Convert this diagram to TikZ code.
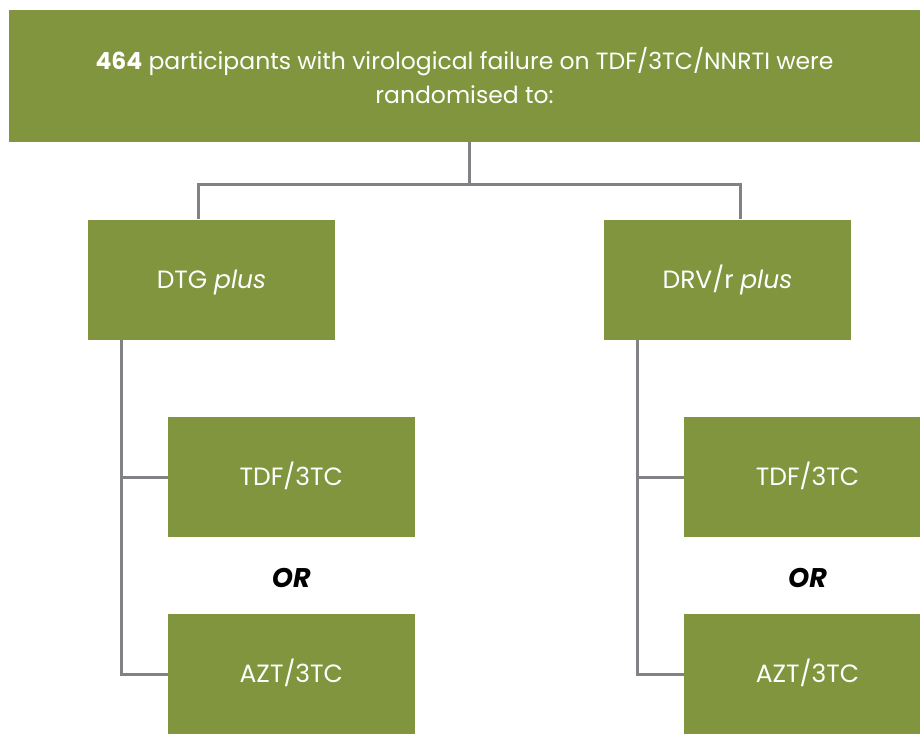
\documentclass[tikz,border=0pt]{standalone}
\usepackage{fontspec}
\setmainfont{Poppins}
\usepackage{tikz}
\usetikzlibrary{positioning}
\definecolor{trialgreen}{RGB}{128,149,61}
\definecolor{linkgray}{RGB}{130,130,134}

\begin{document}
\begin{tikzpicture}[x=1pt,y=-1pt,semithick]
 \useasboundingbox (0,0) rectangle (920,733);
 \tikzstyle{green node}=[rectangle,fill=trialgreen,text=white,inner sep=0]
 \tikzset{
 	head node/.style={green node,minimum width=911pt,minimum height=132pt,align=center,font=\fontsize{23.5}{34}\selectfont},
 	arm node/.style={green node,minimum width=247pt,minimum height=120pt,font=\fontsize{25}{30}\selectfont,text height=17.5pt,text depth=0pt},
 	or node/.style={font=\fontsize{27}{30}\selectfont\bfseries\itshape,text height=19pt,text depth=0pt,inner sep=0},
 	link/.style={draw=linkgray,line width=3pt}
 }

       \node[head node] (top) at (464.5,76) {\textbf{464} participants with virological failure on TDF/3TC/NNRTI were\\randomised to:};
       \node[arm node] (dtg) at (211.5,279.5) {DTG \textit{plus}};
       \node[arm node] (drv) at (727.5,279.5) {DRV/r \textit{plus}};

       \node[arm node] (ltdf) at (291.3,477) {TDF/3TC};
       \node[or node] (lor) at (291.3,578) {OR};
       \node[arm node] (lazt) at (291.3,674) {AZT/3TC};

       \node[arm node] (rtdf) at (807.5,477) {TDF/3TC};
       \node[or node] (ror) at (807.5,578) {OR};
       \node[arm node] (razt) at (807.5,674) {AZT/3TC};

       \coordinate (fork) at (469.3,184);
       \coordinate (lfork) at (198.7,184);
       \coordinate (rfork) at (740,184);
       \coordinate (ltrunk) at (121.7,0);
       \coordinate (rtrunk) at (637.7,0);

     \path[link]  (top.south -| fork) -- (fork);
     \path[link]  (dtg.north -| lfork) -- (lfork) -- (rfork) -- (drv.north -| rfork);

     \path[link]  (dtg.south -| ltrunk) |- (lazt.west);
     \path[link]  (ltrunk |- ltdf.west) -- (ltdf.west);

     \path[link]  (drv.south -| rtrunk) |- (razt.west);
     \path[link]  (rtrunk |- rtdf.west) -- (rtdf.west);
 \end{tikzpicture}
\end{document}
